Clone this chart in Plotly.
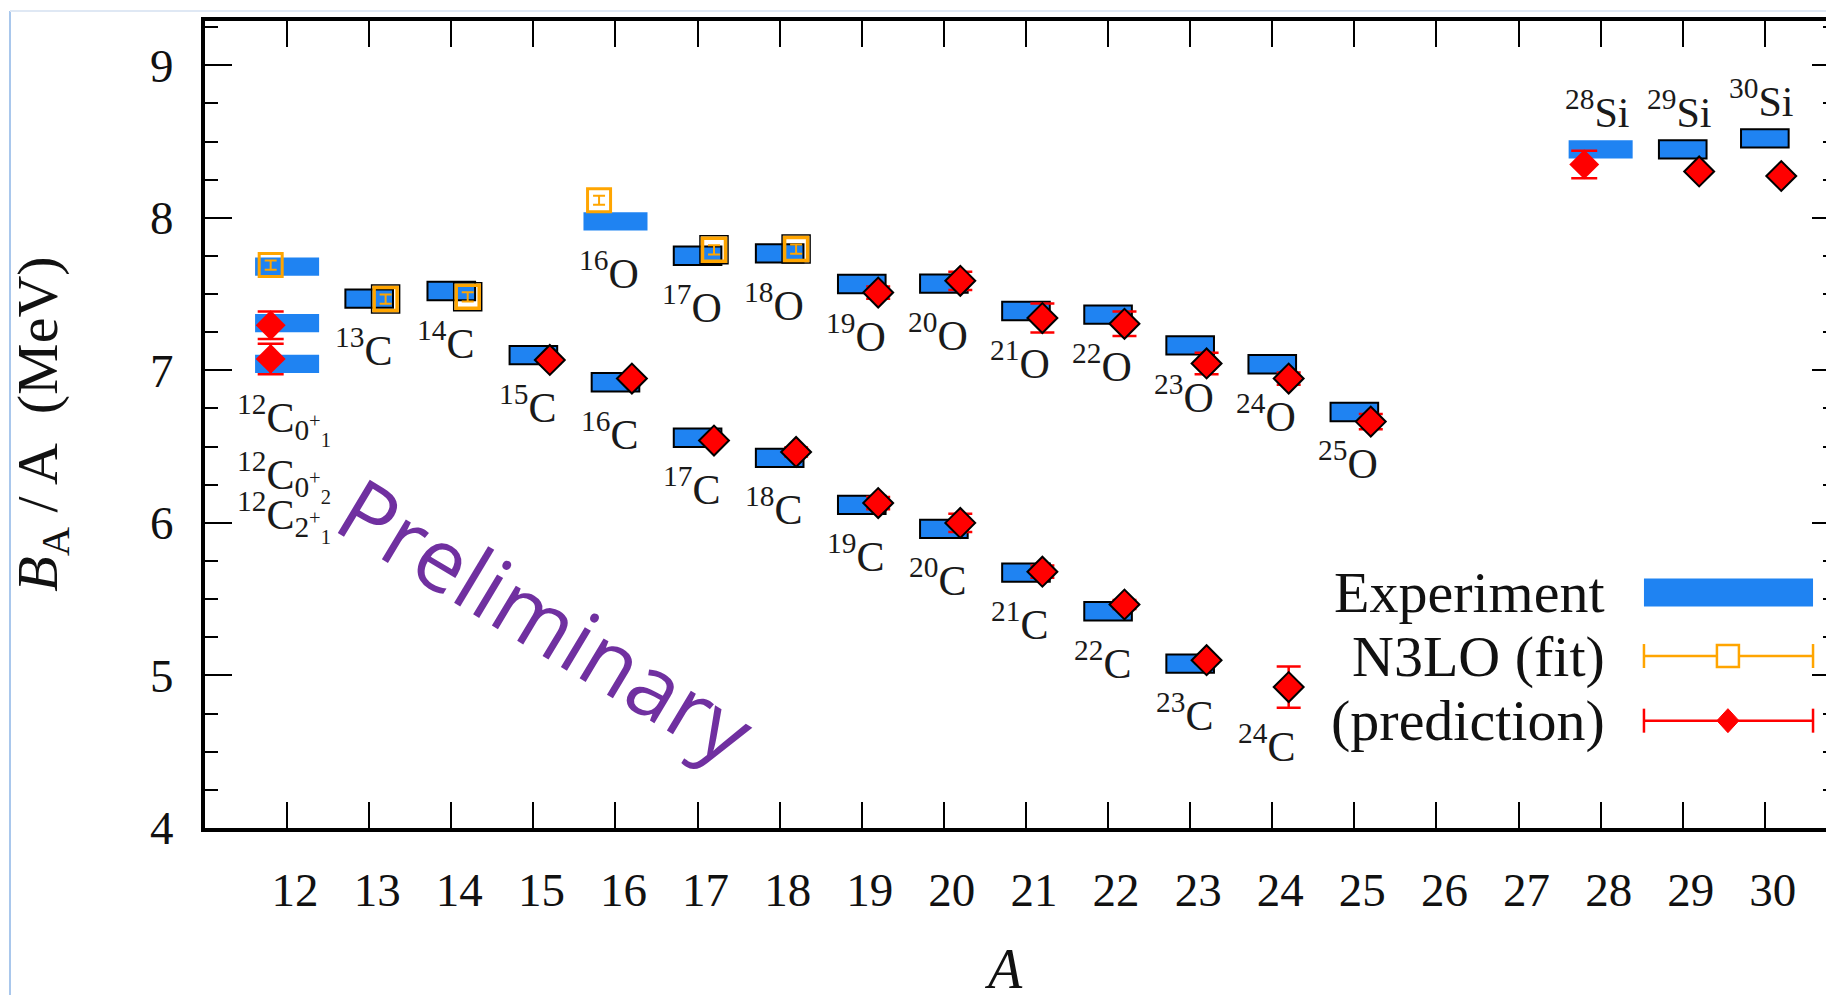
import plotly.graph_objects as go

# ---------------- data ----------------
# 12C states: 0+_1, 0+_2, 2+_1
c12_state_tex = ["0<sup>+</sup><sub>1</sub>", "0<sup>+</sup><sub>2</sub>", "2<sup>+</sup><sub>1</sub>"]
c12_exp = [7.680, 7.042, 7.310]
c12_fit = [7.690, None, None]
c12_fit_err = [0.03, None, None]
c12_pred = [None, 7.075, 7.296]
c12_pred_err = [None, 0.10, 0.09]

# Carbon isotopes
c_A = [13, 14, 15, 16, 17, 18, 19, 20, 21, 22, 23, 24]
c_exp = [7.470, 7.520, 7.100, 6.922, 6.558, 6.426, 6.118, 5.961, 5.674, 5.421, 5.077, None]
c_fit = [7.467, 7.482, None, None, None, None, None, None, None, None, None, None]
c_fit_err = [0.03, 0.03, None, None, None, None, None, None, None, None, None, None]
c_pred = [None, None, 7.068, 6.946, 6.540, 6.465, 6.130, 6.000, 5.680, 5.465, 5.100, 4.924]
c_pred_err = [None, None, 0.02, 0.02, 0.02, 0.03, 0.04, 0.06, 0.04, 0.03, 0.02, 0.135]

# Oxygen isotopes
o_A = [16, 17, 18, 19, 20, 21, 22, 23, 24, 25]
o_exp = [7.976, 7.751, 7.767, 7.566, 7.568, 7.389, 7.365, 7.164, 7.040, 6.727]
o_fit = [8.115, 7.790, 7.795, None, None, None, None, None, None, None]
o_fit_err = [0.03, 0.03, 0.03, None, None, None, None, None, None, None]
o_pred = [None, None, None, 7.510, 7.587, 7.343, 7.305, 7.045, 6.946, 6.664]
o_pred_err = [None, None, None, 0.04, 0.06, 0.095, 0.08, 0.07, 0.04, 0.05]

# Silicon isotopes
si_A = [28, 29, 30]
si_exp = [8.448, 8.449, 8.521]
si_pred = [8.350, 8.304, 8.274]
si_pred_err = [0.09, 0.0, 0.0]

x_tick_vals = list(range(12, 31))
y_tick_vals = [4, 5, 6, 7, 8, 9]

# ---------------- styles ----------------
SERIF = "Liberation Serif"
BLUE = "#1f83f2"
ORANGE = "#ffa500"
RED = "#ff0000"
BAR_H = 0.12          # thickness of an experiment bar (MeV)
WIDE, NARROW = 0.78, 0.58
OFF = 0.2             # horizontal offset of theory symbols
XR = [11.0, 30.745]
YR = [4.0, 9.29]

# reference nuclei drawn with wide, borderless bars and symbols to the left
wide_keys = {("C", 12), ("O", 16), ("Si", 28)}

bars = {"wide": ([], []), "narrow": ([], [])}
fit = {"left": ([], [], []), "right": ([], [], [])}
pred = {"left": ([], [], []), "right": ([], [], [])}


def add(elem, A, e, f, fe, p, pe):
    side = "left" if (elem, A) in wide_keys else "right"
    kind = "wide" if side == "left" else "narrow"
    sgn = -1 if side == "left" else 1
    if e is not None:
        bars[kind][0].append(A)
        bars[kind][1].append(e)
    if f is not None:
        fit[side][0].append(A + sgn * OFF)
        fit[side][1].append(f)
        fit[side][2].append(fe)
    if p is not None:
        pred[side][0].append(A + sgn * OFF)
        pred[side][1].append(p)
        pred[side][2].append(pe)


for e, f, fe, p, pe in zip(c12_exp, c12_fit, c12_fit_err, c12_pred, c12_pred_err):
    add("C", 12, e, f, fe, p, pe)
for a, e, f, fe, p, pe in zip(c_A, c_exp, c_fit, c_fit_err, c_pred, c_pred_err):
    add("C", a, e, f, fe, p, pe)
for a, e, f, fe, p, pe in zip(o_A, o_exp, o_fit, o_fit_err, o_pred, o_pred_err):
    add("O", a, e, f, fe, p, pe)
for a, e, p, pe in zip(si_A, si_exp, si_pred, si_pred_err):
    add("Si", a, e, None, None, p, pe)

fig = go.Figure()

# experiment bars
for kind, w, lw in (("wide", WIDE, 0), ("narrow", NARROW, 2)):
    xs, vs = bars[kind]
    fig.add_trace(go.Bar(
        x=xs, y=[BAR_H] * len(vs), base=[v - BAR_H / 2 for v in vs], width=w,
        marker=dict(color=BLUE, line=dict(color="black", width=lw)),
        showlegend=False, hoverinfo="skip"))

# N3LO fit (open squares)
xs, ys, es = fit["left"]
fig.add_trace(go.Scatter(
    x=xs, y=ys, mode="markers",
    error_y=dict(type="data", array=es, color=ORANGE, thickness=2, width=6),
    marker=dict(symbol="square-open", size=23, color=ORANGE, line=dict(width=3, color=ORANGE)),
    showlegend=False))
xs, ys, es = fit["right"]
fig.add_trace(go.Scatter(
    x=xs, y=ys, mode="markers",
    marker=dict(symbol="square-open", size=28, color="black", line=dict(width=1.5, color="black")),
    showlegend=False))
fig.add_trace(go.Scatter(
    x=xs, y=ys, mode="markers",
    error_y=dict(type="data", array=es, color=ORANGE, thickness=2, width=6),
    marker=dict(symbol="square-open", size=23, color=ORANGE, line=dict(width=3.5, color=ORANGE)),
    showlegend=False))

# predictions (diamonds)
xs, ys, es = pred["left"]
fig.add_trace(go.Scatter(
    x=xs, y=ys, mode="markers",
    error_y=dict(type="data", array=es, color=RED, thickness=2.5, width=13),
    marker=dict(symbol="diamond", size=23, color=RED, line=dict(width=0)),
    showlegend=False))
xs, ys, es = pred["right"]
fig.add_trace(go.Scatter(
    x=xs, y=ys, mode="markers",
    error_y=dict(type="data", array=es, color=RED, thickness=2.5, width=12),
    marker=dict(symbol="diamond", size=23, color=RED, line=dict(width=2, color="black")),
    showlegend=False))

# dummy trace for the right-hand tick axis
fig.add_trace(go.Scatter(x=[None], y=[None], yaxis="y2", showlegend=False))

# ---------------- nuclide labels ----------------
LAB_FONT = dict(family=SERIF, size=42, color="#1a1a1a")
ann = []
for tex, e in zip(c12_state_tex, sorted(c12_exp, reverse=True)):
    ann.append(dict(x=12, y=e, xref="x", yref="y", xanchor="left", yanchor="middle",
                    xshift=-52, yshift=-153, showarrow=False, font=LAB_FONT,
                    text="<sup>12</sup>C<sub>" + tex + "</sub>"))
for a, e, p in zip(c_A, c_exp, c_pred):
    ref, dy = (e, -49) if e is not None else (p, -56)
    ann.append(dict(x=a, y=ref, xref="x", yref="y", xanchor="center", yanchor="middle",
                    xshift=-6, yshift=dy, showarrow=False, font=LAB_FONT,
                    text=f"<sup>{a}</sup>C"))
for a, e in zip(o_A, o_exp):
    ann.append(dict(x=a, y=e, xref="x", yref="y", xanchor="center", yanchor="middle",
                    xshift=-6, yshift=-49, showarrow=False, font=LAB_FONT,
                    text=f"<sup>{a}</sup>O"))
for a, e in zip(si_A, si_exp):
    ann.append(dict(x=a, y=e, xref="x", yref="y", xanchor="center", yanchor="middle",
                    xshift=-4, yshift=40, showarrow=False, font=LAB_FONT,
                    text=f"<sup>{a}</sup>Si"))

# legend texts
LEG_FONT = dict(family=SERIF, size=58, color="#111111")
for txt, yy in (("Experiment", 0.2918), ("N3LO (fit)", 0.2131), ("(prediction)", 0.1330)):
    ann.append(dict(x=0.8649, y=yy, xref="paper", yref="paper", xanchor="right",
                    yanchor="middle", showarrow=False, font=LEG_FONT, text=txt))

# axis titles
ann.append(dict(x=-0.101, y=0.5, xref="paper", yref="paper", xanchor="center",
                yanchor="middle", textangle=-90, showarrow=False,
                font=dict(family=SERIF, size=58, color="#111111"),
                text="<i>B</i><sub>A</sub> / A\u00a0 (MeV)"))
ann.append(dict(x=0.4929, y=-0.175, xref="paper", yref="paper", xanchor="center",
                yanchor="middle", showarrow=False,
                font=dict(family=SERIF, size=56, color="#111111"), text="<i>A</i>"))

# watermark
ann.append(dict(x=0.211, y=0.259, xref="paper", yref="paper", xanchor="center",
                yanchor="middle", textangle=31, showarrow=False,
                font=dict(family="Open Sans", size=87, color="#7030a0"), text="Preliminary"))

# ---------------- legend keys and frame decorations (shapes) ----------------
LX0, LX1, LXM = 0.8877, 0.9920, 0.9395
shapes = [
    # experiment key
    dict(type="rect", xref="paper", yref="paper", ysizemode="pixel", yanchor=0.2918,
         x0=LX0, x1=LX1, y0=-14, y1=14, fillcolor=BLUE, line=dict(width=0)),
]
for yy, col in ((0.2131, ORANGE), (0.1330, RED)):
    shapes.append(dict(type="line", xref="paper", yref="paper", x0=LX0, x1=LX1, y0=yy, y1=yy,
                       line=dict(color=col, width=2.5)))
    for xx in (LX0, LX1):
        shapes.append(dict(type="line", xref="paper", yref="paper", ysizemode="pixel",
                           yanchor=yy, x0=xx, x1=xx, y0=-12, y1=12, line=dict(color=col, width=2.5)))
shapes.append(dict(type="rect", xref="paper", yref="paper", xsizemode="pixel", ysizemode="pixel",
                   xanchor=LXM, yanchor=0.2131, x0=-11, x1=11, y0=-11, y1=11,
                   fillcolor="white", line=dict(color=ORANGE, width=2.5)))
shapes.append(dict(type="path", xref="paper", yref="paper", xsizemode="pixel", ysizemode="pixel",
                   xanchor=LXM, yanchor=0.1330, path="M 0,-12 L 11,0 L 0,12 L -11,0 Z",
                   fillcolor=RED, line=dict(color=RED, width=1)))
# screenshot window border
shapes.append(dict(type="line", xref="paper", yref="paper", x0=-0.1203, x1=-0.1203, y0=-0.21, y1=1.0124,
                   line=dict(color="#a9c7ec", width=2)))
shapes.append(dict(type="line", xref="paper", yref="paper", x0=-0.1203, x1=1.0, y0=1.0124, y1=1.0124,
                   line=dict(color="#dfe8f4", width=2)))

AX_FONT = dict(family=SERIF, size=47, color="#111111")
fig.update_layout(
    width=1826, height=995,
    margin=dict(l=205, r=0, t=21, b=167),
    paper_bgcolor="white", plot_bgcolor="white",
    barmode="overlay", showlegend=False,
    font=dict(family=SERIF, color="#111111"),
    annotations=ann, shapes=shapes,
    xaxis=dict(range=XR, tickvals=x_tick_vals, ticks="inside", ticklen=26, tickwidth=2,
               tickcolor="black", showline=True, linewidth=4, linecolor="black",
               mirror="ticks", showgrid=False, zeroline=False, tickfont=AX_FONT,
               ticklabelstandoff=18, ticklabelshift=8),
    yaxis=dict(range=YR, tickvals=y_tick_vals, ticks="inside", ticklen=27, tickwidth=2,
               tickcolor="black", showline=True, linewidth=4, linecolor="black",
               showgrid=False, zeroline=False, tickfont=AX_FONT, ticklabelstandoff=18,
               minor=dict(dtick=0.25, tick0=4, ticks="inside", ticklen=13, tickwidth=2,
                          tickcolor="black", showgrid=False)),
    yaxis2=dict(range=YR, overlaying="y", side="right", anchor="x", tickvals=y_tick_vals,
                ticks="inside", ticklen=14, tickwidth=2, tickcolor="black",
                showticklabels=False, showline=False, showgrid=False, zeroline=False,
                minor=dict(dtick=0.25, tick0=4, ticks="inside", ticklen=3, tickwidth=2,
                           tickcolor="black", showgrid=False)),
)

fig.write_html("out.html")
